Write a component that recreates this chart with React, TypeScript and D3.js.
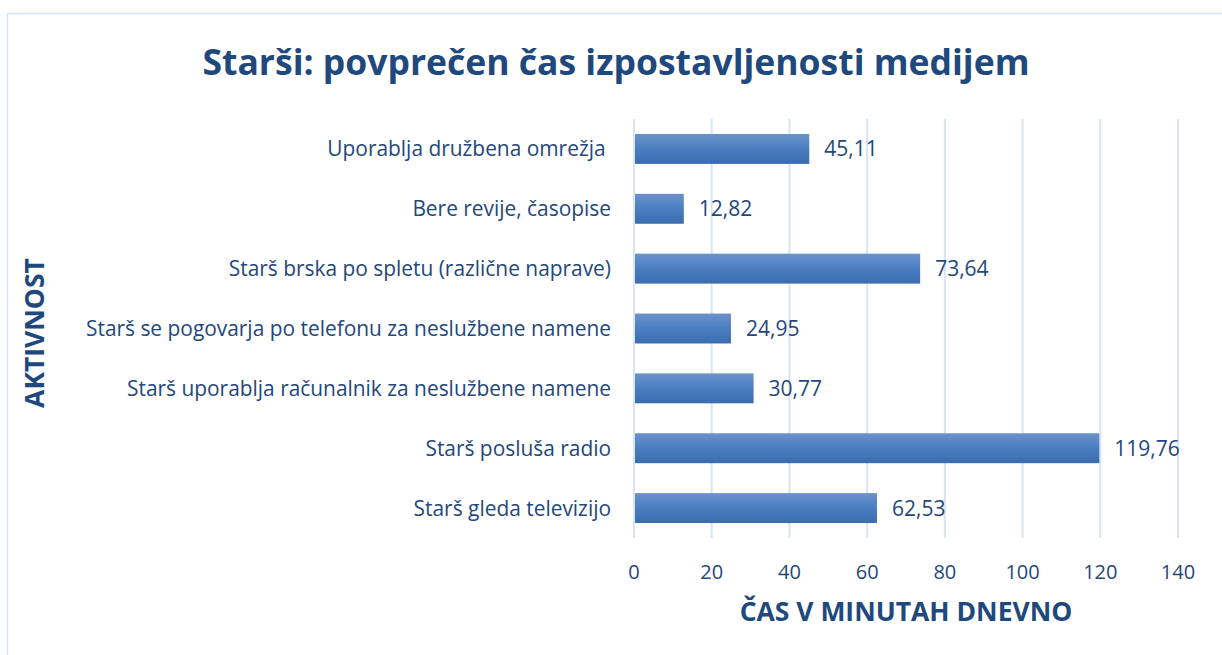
import React, { useRef, useEffect } from 'react';
import * as d3 from 'd3';

const categories = [
  'Uporablja družbena omrežja ',
  'Bere revije, časopise',
  'Starš brska po spletu (različne naprave)',
  'Starš se pogovarja po telefonu za neslužbene namene',
  'Starš uporablja računalnik za neslužbene namene',
  'Starš posluša radio',
  'Starš gleda televizijo',
];
const values = [45.11, 12.82, 73.64, 24.95, 30.77, 119.76, 62.53];
const xTicks = [0, 20, 40, 60, 80, 100, 120, 140];

const TEXT = '#1f487c';
const GRID = '#d9e4f3';
const FONT = '"Open Sans", sans-serif';

const App = () => {
  const ref = useRef(null);

  useEffect(() => {
    const svg = d3.select(ref.current);
    svg.selectAll('*').remove();
    svg.attr('width', 1222).attr('height', 655);

    const margin = { top: 119, left: 634, right: 44, bottom: 117 };
    const width = 1178 - margin.left;
    const height = 538 - margin.top;

    const defs = svg.append('defs');
    const grad = defs.append('linearGradient')
      .attr('id', 'barGrad').attr('x1', 0).attr('y1', 0).attr('x2', 0).attr('y2', 1);
    grad.append('stop').attr('offset', '0%').attr('stop-color', '#6b92cb');
    grad.append('stop').attr('offset', '50%').attr('stop-color', '#4a7ec1');
    grad.append('stop').attr('offset', '100%').attr('stop-color', '#3a6cae');

    // chart border
    svg.append('rect')
      .attr('x', 7.5).attr('y', 13.5).attr('width', 1240).attr('height', 700)
      .attr('fill', 'white').attr('stroke', GRID).attr('stroke-width', 1.5);

    const x = d3.scaleLinear().domain([0, 140]).range([0, width]);
    const y = d3.scaleBand().domain(categories).range([0, height]).paddingInner(0.5).paddingOuter(0.25);

    const g = svg.append('g').attr('transform', `translate(${margin.left},${margin.top})`);

    g.selectAll('line.grid').data(xTicks).join('line')
      .attr('class', 'grid')
      .attr('x1', d => x(d)).attr('x2', d => x(d))
      .attr('y1', 0).attr('y2', height)
      .attr('stroke', GRID).attr('stroke-width', 2);

    g.selectAll('text.tick').data(xTicks).join('text')
      .attr('class', 'tick')
      .attr('x', d => x(d)).attr('y', height + 41)
      .attr('text-anchor', 'middle')
      .attr('font-family', FONT).attr('font-size', 20).attr('fill', TEXT)
      .text(d => d);

    g.selectAll('rect.bar').data(values).join('rect')
      .attr('class', 'bar')
      .attr('x', x(0) + 1)
      .attr('y', (d, i) => y(categories[i]))
      .attr('width', d => x(d) - x(0) - 1)
      .attr('height', y.bandwidth())
      .attr('fill', 'url(#barGrad)');

    g.selectAll('text.val').data(values).join('text')
      .attr('class', 'val')
      .attr('x', d => x(d) + 15)
      .attr('y', (d, i) => y(categories[i]) + y.bandwidth() / 2)
      .attr('dy', '0.36em')
      .attr('font-family', FONT).attr('font-size', 21).attr('fill', TEXT)
      .text(d => d3.format('.2f')(d).replace('.', ','));

    g.selectAll('text.cat').data(categories).join('text')
      .attr('class', 'cat')
      .attr('x', -23)
      .attr('y', d => y(d) + y.bandwidth() / 2)
      .attr('dy', '0.36em')
      .attr('text-anchor', 'end')
      .style('white-space', 'pre')
      .attr('font-family', FONT).attr('font-size', 20.9).attr('fill', TEXT)
      .text(d => d);

    svg.append('text')
      .attr('x', 616).attr('y', 75)
      .attr('text-anchor', 'middle')
      .attr('font-family', FONT).attr('font-size', 35.5).attr('font-weight', 'bold').attr('fill', TEXT)
      .text('Starši: povprečen čas izpostavljenosti medijem');

    svg.append('text')
      .attr('x', 906).attr('y', 621)
      .attr('text-anchor', 'middle')
      .attr('font-family', FONT).attr('font-size', 26.5).attr('font-weight', 'bold').attr('fill', TEXT)
      .text('ČAS V MINUTAH DNEVNO');

    svg.append('text')
      .attr('transform', 'translate(44,333) rotate(-90)')
      .attr('text-anchor', 'middle')
      .attr('font-family', FONT).attr('font-size', 26.5).attr('font-weight', 'bold').attr('fill', TEXT)
      .text('AKTIVNOST');
  }, []);

  return <svg ref={ref} style={{ position: 'absolute', left: 0, top: 0, display: 'block' }}></svg>;
};

export default App;
